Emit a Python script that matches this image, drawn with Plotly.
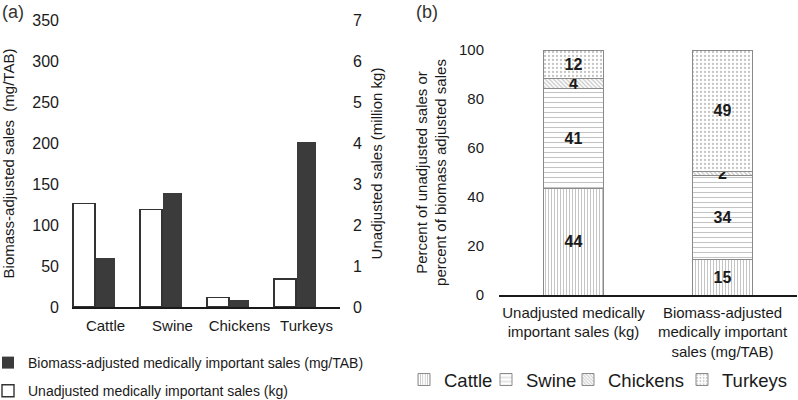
import plotly.graph_objects as go

# ---- data ----
species = ["Cattle", "Swine", "Chickens", "Turkeys"]
biomass_mg_tab = [59.4, 138.7, 8.5, 201.6]          # left axis (mg/TAB)
unadjusted_million_kg = [2.53, 2.38, 0.23, 0.68]    # right axis (million kg)

panel_b_categories = ["Unadjusted medically<br>important sales (kg)",
                      "Biomass-adjusted<br>medically important<br>sales (mg/TAB)"]
pct_cattle = [43.6, 14.6]
pct_swine = [40.8, 34.2]
pct_chickens = [3.9, 1.8]
pct_turkeys = [11.7, 49.4]

left_ticks = [0, 50, 100, 150, 200, 250, 300, 350]
right_ticks = [0, 1, 2, 3, 4, 5, 6, 7]
pct_ticks = [0, 20, 40, 60, 80, 100]

FONT = "Liberation Sans, Arial, sans-serif"
W, H = 798, 400


def px_x(p):
    return p / W


def px_y(p):
    return 1 - p / H


fig = go.Figure()

# ---- panel (a) ----
fig.add_trace(go.Bar(
    x=species, y=biomass_mg_tab, name="Biomass-adjusted medically important sales (mg/TAB)",
    marker=dict(color="#3b3b3b", line=dict(color="#3b3b3b", width=0)),
    offset=0.02, width=0.29, xaxis="x", yaxis="y",
    legend="legend", legendgroup="a1"))
fig.add_trace(go.Bar(
    x=species, y=unadjusted_million_kg, name="Unadjusted medically important sales (kg)",
    marker=dict(color="white", line=dict(color="#333333", width=1.4)),
    offset=-0.32, width=0.325, xaxis="x", yaxis="y2",
    legend="legend", legendgroup="a2"))

# ---- panel (b) ----
patterns = [
    ("Cattle", pct_cattle, dict(shape="|", size=3, solidity=0.35), 37),
    ("Swine", pct_swine, dict(shape="-", size=5, solidity=0.22), 37),
    ("Chickens", pct_chickens, dict(shape="\\", size=3, solidity=0.4), 69),
    ("Turkeys", pct_turkeys, dict(shape=".", size=4, solidity=0.25), 68),
]
for name, vals, pat, lw in patterns:
    pat.update(fgcolor="#8a8a8a", bgcolor="white", fillmode="overlay")
    fig.add_trace(go.Bar(
        x=panel_b_categories, y=vals, name=name,
        marker=dict(color="white", pattern=pat, line=dict(color="#8a8a8a", width=1)),
        width=0.4, xaxis="x3", yaxis="y3", legend="legend2", legendwidth=lw,
        texttemplate="%{y:.0f}", textposition="inside", textangle=0,
        insidetextanchor="middle",
        textfont=dict(family=FONT, size=16, color="#1a1a1a", weight="bold")))

fig.update_layout(
    width=W, height=H,
    margin=dict(l=0, r=0, t=0, b=0, autoexpand=False),
    paper_bgcolor="white", plot_bgcolor="white",
    barmode="stack",
    font=dict(family=FONT, size=15, color="#1a1a1a"),
    uniformtext=dict(minsize=16, mode="show"),
    xaxis=dict(domain=[px_x(72), px_x(340)], type="category", automargin=False,
               range=[-0.336, 3.664], showline=True, linecolor="#1a1a1a", linewidth=1.5,
               ticks="", showgrid=False, ticklabelshift=11, ticklabelstandoff=4, tickangle=0,
               tickfont=dict(size=15), anchor="y"),
    yaxis=dict(domain=[px_y(307), px_y(20)], range=[0, 350], tickvals=left_ticks,
               automargin=False,
               showgrid=False, zeroline=False, showline=False, ticks="",
               tickfont=dict(size=16), ticklabelstandoff=12,
               title=dict(text="Biomass-adjusted sales  (mg/TAB)", font=dict(size=15), standoff=14),
               anchor="x"),
    yaxis2=dict(overlaying="y", side="right", range=[0, 7], tickvals=right_ticks,
                automargin=False,
                showgrid=False, zeroline=False, showline=False, ticks="",
                tickfont=dict(size=16), ticklabelstandoff=12,
                title=dict(text="Unadjusted sales (million kg)", font=dict(size=15), standoff=10),
                anchor="x"),
    xaxis3=dict(domain=[px_x(499), px_x(797)], type="category", anchor="y3",
                automargin=False, tickangle=0, ticklabelstandoff=3,
                showline=True, linecolor="#1a1a1a", linewidth=1.5, ticks="",
                showgrid=False, tickfont=dict(size=15)),
    yaxis3=dict(domain=[px_y(295), px_y(50)], range=[0, 100], tickvals=pct_ticks,
                automargin=False,
                anchor="x3", showgrid=False, zeroline=False, showline=False, ticks="",
                tickfont=dict(size=15), ticklabelstandoff=14,
                title=dict(text="Percent of unadjusted sales or<br>percent of biomass adjusted sales",
                           font=dict(size=15), standoff=8)),
    legend=dict(orientation="v", x=-12 / W, xanchor="left", y=px_y(347), yanchor="top",
                traceorder="grouped", tracegroupgap=7, font=dict(size=14),
                bgcolor="rgba(0,0,0,0)", itemwidth=30),
    legend2=dict(orientation="h", x=px_x(404), xanchor="left", y=px_y(380), yanchor="middle",
                 traceorder="normal",
                 font=dict(size=18.5), bgcolor="rgba(0,0,0,0)", itemwidth=30),
    annotations=[
        dict(text="(a)", x=0, y=px_y(12), xref="paper", yref="paper", xanchor="left",
             yanchor="middle", showarrow=False, font=dict(size=18, color="#333")),
        dict(text="(b)", x=px_x(414), y=px_y(12), xref="paper", yref="paper", xanchor="left",
             yanchor="middle", showarrow=False, font=dict(size=18, color="#333")),
    ],
)

fig.write_html("out.html", config={"displayModeBar": False},
               post_script="document.body.style.margin='0';")
